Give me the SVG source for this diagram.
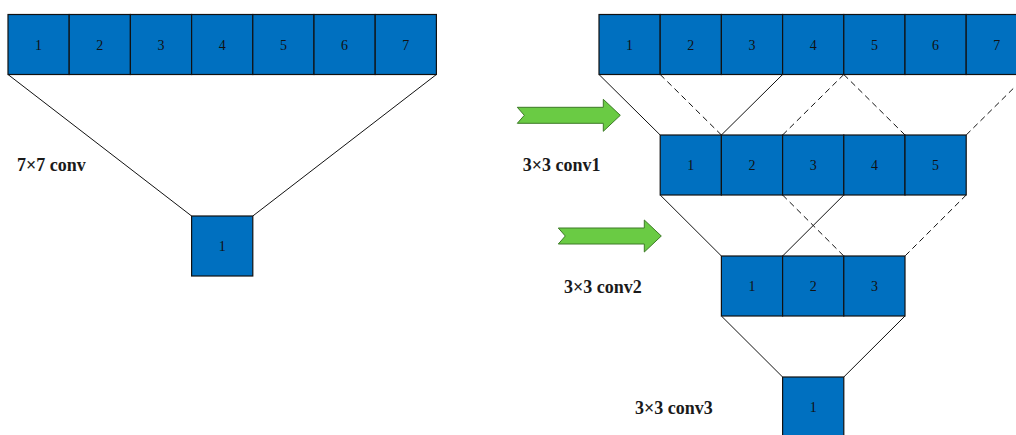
<svg xmlns="http://www.w3.org/2000/svg" width="1016" height="435" viewBox="0 0 1016 435">
  <style>
    .cell rect { fill: #0070C0; stroke: #111; stroke-width: 1.2; }
    .cell text { font-family: "Liberation Serif", serif; font-size: 14px; fill: #111; text-anchor: middle; }
    .label { font-family: "Liberation Serif", serif; font-size: 18px; font-weight: bold; fill: #1a1a1a; }
    .edge { stroke: #111; stroke-width: 1; fill: none; }
    .edge.dash { stroke-dasharray: 6 4; }
    .step { fill: #6ACB44; stroke: #3C7A26; stroke-width: 1; }
  </style>
  <defs>
    <g id="cellShape"><rect x="0" y="0" width="61.2" height="60"/></g>
    <path id="stepArrow" d="M0,-8 H86 V-16 L103,0 L86,16 V8 H0 L7,0 Z"/>
  </defs>

  <!-- connectors -->
  <g id="connectors">
    <!-- 7x7 receptive field -->
    <line class="edge" x1="8" y1="74.5" x2="191.6" y2="216"/>
    <line class="edge" x1="436.4" y1="74.5" x2="252.8" y2="216"/>
    <!-- input row to conv1 row -->
    <line class="edge" x1="599" y1="74.5" x2="660.2" y2="135"/>
    <line class="edge dash" x1="660.2" y1="74.5" x2="721.4" y2="135"/>
    <line class="edge" x1="782.6" y1="74.5" x2="721.4" y2="135"/>
    <line class="edge dash" x1="843.8" y1="74.5" x2="782.6" y2="135"/>
    <line class="edge dash" x1="843.8" y1="74.5" x2="905" y2="135"/>
    <line class="edge dash" x1="1027.4" y1="74.5" x2="966.2" y2="135"/>
    <!-- conv1 row to conv2 row -->
    <line class="edge" x1="660.2" y1="195" x2="721.4" y2="256"/>
    <line class="edge" x1="843.8" y1="195" x2="782.6" y2="256"/>
    <line class="edge dash" x1="782.6" y1="195" x2="843.8" y2="256"/>
    <line class="edge dash" x1="966.2" y1="195" x2="905" y2="256"/>
    <!-- conv2 row to conv3 output -->
    <line class="edge" x1="721.4" y1="316" x2="782.6" y2="377"/>
    <line class="edge" x1="905" y1="316" x2="843.8" y2="377"/>
  </g>

  <!-- left: single 7x7 convolution -->
  <g id="left-in-1" class="cell"><rect x="8" y="14.5" width="61.2" height="60"/><text x="38.6" y="49.5">1</text></g>
  <g id="left-in-2" class="cell"><rect x="69.2" y="14.5" width="61.2" height="60"/><text x="99.8" y="49.5">2</text></g>
  <g id="left-in-3" class="cell"><rect x="130.4" y="14.5" width="61.2" height="60"/><text x="161" y="49.5">3</text></g>
  <g id="left-in-4" class="cell"><rect x="191.6" y="14.5" width="61.2" height="60"/><text x="222.2" y="49.5">4</text></g>
  <g id="left-in-5" class="cell"><rect x="252.8" y="14.5" width="61.2" height="60"/><text x="283.4" y="49.5">5</text></g>
  <g id="left-in-6" class="cell"><rect x="314" y="14.5" width="61.2" height="60"/><text x="344.6" y="49.5">6</text></g>
  <g id="left-in-7" class="cell"><rect x="375.2" y="14.5" width="61.2" height="60"/><text x="405.8" y="49.5">7</text></g>
  <g id="left-out-1" class="cell"><rect x="191.6" y="216" width="61.2" height="60"/><text x="222.2" y="251">1</text></g>
  <text class="label" x="17" y="171">7×7 conv</text>

  <!-- right: three stacked 3x3 convolutions -->
  <g id="right-in-1" class="cell"><rect x="599" y="14.5" width="61.2" height="60"/><text x="629.6" y="49.5">1</text></g>
  <g id="right-in-2" class="cell"><rect x="660.2" y="14.5" width="61.2" height="60"/><text x="690.8" y="49.5">2</text></g>
  <g id="right-in-3" class="cell"><rect x="721.4" y="14.5" width="61.2" height="60"/><text x="752" y="49.5">3</text></g>
  <g id="right-in-4" class="cell"><rect x="782.6" y="14.5" width="61.2" height="60"/><text x="813.2" y="49.5">4</text></g>
  <g id="right-in-5" class="cell"><rect x="843.8" y="14.5" width="61.2" height="60"/><text x="874.4" y="49.5">5</text></g>
  <g id="right-in-6" class="cell"><rect x="905" y="14.5" width="61.2" height="60"/><text x="935.6" y="49.5">6</text></g>
  <g id="right-in-7" class="cell"><rect x="966.2" y="14.5" width="61.2" height="60"/><text x="996.8" y="49.5">7</text></g>

  <g id="conv1-1" class="cell"><rect x="660.2" y="135" width="61.2" height="60"/><text x="690.8" y="170">1</text></g>
  <g id="conv1-2" class="cell"><rect x="721.4" y="135" width="61.2" height="60"/><text x="752" y="170">2</text></g>
  <g id="conv1-3" class="cell"><rect x="782.6" y="135" width="61.2" height="60"/><text x="813.2" y="170">3</text></g>
  <g id="conv1-4" class="cell"><rect x="843.8" y="135" width="61.2" height="60"/><text x="874.4" y="170">4</text></g>
  <g id="conv1-5" class="cell"><rect x="905" y="135" width="61.2" height="60"/><text x="935.6" y="170">5</text></g>

  <g id="conv2-1" class="cell"><rect x="721.4" y="256" width="61.2" height="60"/><text x="752" y="291">1</text></g>
  <g id="conv2-2" class="cell"><rect x="782.6" y="256" width="61.2" height="60"/><text x="813.2" y="291">2</text></g>
  <g id="conv2-3" class="cell"><rect x="843.8" y="256" width="61.2" height="60"/><text x="874.4" y="291">3</text></g>

  <g id="conv3-1" class="cell"><rect x="782.6" y="377" width="61.2" height="60"/><text x="813.2" y="412">1</text></g>

  <!-- step arrows -->
  <g id="step-arrow-1"><use href="#stepArrow" class="step" transform="translate(517.3,115.3)"/></g>
  <g id="step-arrow-2"><use href="#stepArrow" class="step" transform="translate(558.3,236)"/></g>

  <text class="label" x="522.7" y="171">3×3 conv1</text>
  <text class="label" x="564" y="293">3×3 conv2</text>
  <text class="label" x="635" y="414">3×3 conv3</text>
</svg>
